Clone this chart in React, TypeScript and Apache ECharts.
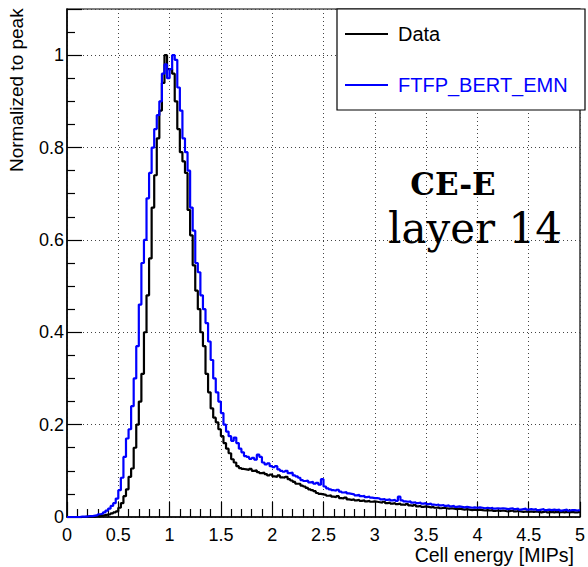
import React, { useEffect, useRef } from "react";
import * as echarts from "echarts";

const BIN_WIDTH = 0.025;

// Data histogram (bins of 0.025 MIPs from 0 to 5), normalized to peak
const dataValues = [
  0, 0, 0, 0, 0, 0, 0, 0.001, 0.001, 0.001,
  0.001, 0.002, 0.002, 0.003, 0.004, 0.005, 0.006, 0.008, 0.01, 0.012,
  0.02, 0.03, 0.045, 0.06, 0.087, 0.105, 0.15, 0.2, 0.25, 0.31,
  0.4, 0.48, 0.56, 0.67, 0.74, 0.82, 0.88, 0.94, 1.0, 0.97,
  0.97, 0.96, 0.9, 0.84, 0.79, 0.77, 0.745, 0.665, 0.61, 0.545,
  0.49, 0.45, 0.4, 0.37, 0.31, 0.27, 0.235, 0.215, 0.205, 0.19,
  0.175, 0.16, 0.148, 0.138, 0.125, 0.118, 0.11, 0.106, 0.104, 0.103,
  0.102, 0.104, 0.1, 0.101, 0.097, 0.095, 0.096, 0.093, 0.09, 0.092,
  0.088, 0.087, 0.09, 0.086, 0.085, 0.087, 0.082, 0.079, 0.076, 0.072,
  0.072, 0.068, 0.066, 0.063, 0.06, 0.058, 0.056, 0.052, 0.05, 0.049,
  0.048, 0.046, 0.047, 0.044, 0.043, 0.045, 0.041, 0.04, 0.042, 0.038,
  0.037, 0.038, 0.036, 0.037, 0.035, 0.036, 0.034, 0.035, 0.033, 0.034,
  0.033, 0.032, 0.031, 0.033, 0.03, 0.031, 0.029, 0.03, 0.028, 0.029,
  0.027, 0.026, 0.028, 0.025, 0.024, 0.026, 0.023, 0.024, 0.022, 0.023,
  0.022, 0.021, 0.022, 0.02, 0.021, 0.019, 0.02, 0.019, 0.018, 0.019,
  0.018, 0.017, 0.018, 0.017, 0.016, 0.017, 0.016, 0.015, 0.016, 0.015,
  0.016, 0.015, 0.014, 0.015, 0.014, 0.015, 0.013, 0.014, 0.013, 0.014,
  0.013, 0.012, 0.013, 0.014, 0.012, 0.013, 0.012, 0.011, 0.012, 0.011,
  0.012, 0.011, 0.012, 0.011, 0.01, 0.011, 0.012, 0.01, 0.011, 0.01,
  0.011, 0.01, 0.011, 0.01, 0.011, 0.01, 0.011, 0.01, 0.01, 0.011,
];

// FTFP_BERT_EMN simulation histogram
const simValues = [
  0, 0, 0, 0, 0, 0.001, 0.001, 0.001, 0.002, 0.002,
  0.003, 0.004, 0.006, 0.007, 0.01, 0.014, 0.018, 0.024, 0.03, 0.04,
  0.058, 0.085, 0.13, 0.17, 0.19, 0.24, 0.3, 0.37, 0.46, 0.55,
  0.6, 0.69, 0.745, 0.8, 0.84, 0.87, 0.9, 0.96, 0.98, 0.95,
  0.97, 1.0, 0.99, 0.93, 0.88, 0.82, 0.79, 0.75, 0.67, 0.62,
  0.55, 0.53, 0.48, 0.45, 0.42, 0.38, 0.34, 0.3, 0.27, 0.25,
  0.225, 0.2, 0.185, 0.175, 0.165, 0.172, 0.16, 0.148, 0.14, 0.132,
  0.13, 0.126, 0.128, 0.124, 0.135, 0.13, 0.118, 0.114, 0.116, 0.11,
  0.108, 0.11, 0.103, 0.1, 0.098, 0.1, 0.095, 0.096, 0.09, 0.088,
  0.085, 0.08, 0.078, 0.079, 0.075, 0.076, 0.072, 0.074, 0.07, 0.082,
  0.066, 0.062, 0.06, 0.058, 0.057, 0.059, 0.055, 0.053, 0.054, 0.051,
  0.05, 0.049, 0.047, 0.048, 0.045, 0.046, 0.043, 0.044, 0.042, 0.041,
  0.041, 0.04, 0.038, 0.039, 0.037, 0.038, 0.036, 0.037, 0.035, 0.044,
  0.036, 0.034, 0.033, 0.034, 0.031, 0.032, 0.03, 0.031, 0.029, 0.03,
  0.028, 0.029, 0.027, 0.026, 0.027, 0.025, 0.026, 0.024, 0.025, 0.023,
  0.024, 0.022, 0.023, 0.022, 0.021, 0.022, 0.021, 0.02, 0.021, 0.02,
  0.021, 0.02, 0.019, 0.02, 0.019, 0.02, 0.018, 0.019, 0.018, 0.019,
  0.018, 0.017, 0.018, 0.019, 0.017, 0.018, 0.016, 0.017, 0.018, 0.016,
  0.017, 0.016, 0.017, 0.015, 0.016, 0.017, 0.015, 0.016, 0.015, 0.016,
  0.015, 0.016, 0.014, 0.015, 0.016, 0.014, 0.015, 0.015, 0.014, 0.015,
];

const seriesNames = ["Data", "FTFP_BERT_EMN"];
const seriesColors = ["#000000", "#0000ff"];
const xTitle = "Cell energy [MIPs]";
const yTitle = "Normalized to peak";
const annotation = ["CE-E", "layer 14"];

function toSteps(vals: number[]): number[][] {
  const pts = vals.map((v, i) => [Number((i * BIN_WIDTH).toFixed(4)), v]);
  pts.push([Number((vals.length * BIN_WIDTH).toFixed(4)), vals[vals.length - 1]]);
  return pts;
}

const SANS = "'Liberation Sans', Arial, sans-serif";
const SERIF = "'DejaVu Serif', 'Liberation Serif', serif";

export default function App() {
  const ref = useRef<HTMLDivElement>(null);
  useEffect(() => {
    if (!ref.current) return;
    const chart = echarts.init(ref.current, null, { renderer: "svg" });
    const tickStyle = { color: "#000", width: 1.2 };
    chart.setOption({
      animation: false,
      backgroundColor: "#fff",
      grid: {
        left: 67,
        right: 5,
        top: 9,
        bottom: 50,
        show: true,
        borderColor: "#000",
        borderWidth: 1.2,
        backgroundColor: "transparent",
      },
      xAxis: {
        type: "value",
        min: 0,
        max: 5,
        interval: 0.5,
        axisLine: { show: true, lineStyle: { color: "#000", width: 1.5 } },
        axisTick: { show: true, inside: true, length: 15, lineStyle: tickStyle },
        minorTick: { show: true, splitNumber: 5, length: 8, lineStyle: tickStyle },
        axisLabel: {
          color: "#000",
          fontSize: 18,
          fontFamily: SANS,
          margin: 9,
          formatter: (v: number) => String(v),
        },
        splitLine: { show: true, lineStyle: { color: "#444", type: [1, 3], width: 1 } },
      },
      yAxis: {
        type: "value",
        min: 0,
        max: 1.1,
        interval: 0.2,
        axisLine: { show: true, lineStyle: { color: "#000", width: 1.5 } },
        axisTick: { show: true, inside: true, length: 15, lineStyle: tickStyle },
        minorTick: { show: true, splitNumber: 4, length: 8, lineStyle: tickStyle },
        axisLabel: {
          color: "#000",
          fontSize: 18,
          fontFamily: SANS,
          margin: 3,
          showMaxLabel: false,
          formatter: (v: number) => (v > 1.05 ? "" : String(Number(v.toFixed(1)))),
        },
        splitLine: { show: true, lineStyle: { color: "#444", type: [1, 3], width: 1 } },
      },
      series: [
        {
          name: seriesNames[0],
          type: "line",
          step: "end",
          data: toSteps(dataValues),
          showSymbol: false,
          lineStyle: { color: seriesColors[0], width: 2.2 },
          itemStyle: { color: seriesColors[0] },
          z: 3,
        },
        {
          name: seriesNames[1],
          type: "line",
          step: "end",
          data: toSteps(simValues),
          showSymbol: false,
          lineStyle: { color: seriesColors[1], width: 2.2 },
          itemStyle: { color: seriesColors[1] },
          z: 4,
        },
      ],
      graphic: [
        {
          type: "text",
          x: 16,
          y: 172,
          rotation: Math.PI / 2,
          style: {
            text: yTitle,
            fontSize: 19,
            fontFamily: SANS,
            fill: "#000",
            textAlign: "left",
            textVerticalAlign: "middle",
          },
        },
        {
          type: "text",
          right: 14,
          top: 545,
          style: {
            text: xTitle,
            fontSize: 19.5,
            fontFamily: SANS,
            fill: "#000",
          },
        },
        {
          type: "rect",
          z: 10,
          shape: { x: 337, y: 9, width: 248, height: 101 },
          style: { fill: "#fff", stroke: "#000", lineWidth: 1.2 },
        },
        {
          type: "line",
          z: 11,
          shape: { x1: 345, y1: 34, x2: 388, y2: 34 },
          style: { stroke: seriesColors[0], lineWidth: 2.2 },
        },
        {
          type: "text",
          z: 11,
          x: 398,
          y: 34,
          style: {
            text: seriesNames[0],
            fontSize: 20,
            fontFamily: SANS,
            fill: seriesColors[0],
            textVerticalAlign: "middle",
          },
        },
        {
          type: "line",
          z: 11,
          shape: { x1: 345, y1: 85, x2: 388, y2: 85 },
          style: { stroke: seriesColors[1], lineWidth: 2.2 },
        },
        {
          type: "text",
          z: 11,
          x: 398,
          y: 85,
          style: {
            text: seriesNames[1],
            fontSize: 20,
            fontFamily: SANS,
            fill: seriesColors[1],
            textVerticalAlign: "middle",
          },
        },
        {
          type: "text",
          z: 11,
          x: 453,
          y: 184,
          style: {
            text: annotation[0],
            fontSize: 31,
            lineHeight: 31,
            fontWeight: "bold",
            fontFamily: SERIF,
            fill: "#000",
            textAlign: "center",
            textVerticalAlign: "middle",
          },
        },
        {
          type: "text",
          z: 11,
          x: 475,
          y: 228,
          style: {
            text: annotation[1],
            fontSize: 42,
            lineHeight: 42,
            fontFamily: SERIF,
            fill: "#000",
            textAlign: "center",
            textVerticalAlign: "middle",
          },
        },
      ],
    });
    return () => chart.dispose();
  }, []);
  return (
    <div
      ref={ref}
      style={{ position: "fixed", left: 0, top: 0, width: 588, height: 567, background: "#fff" }}
    />
  );
}
